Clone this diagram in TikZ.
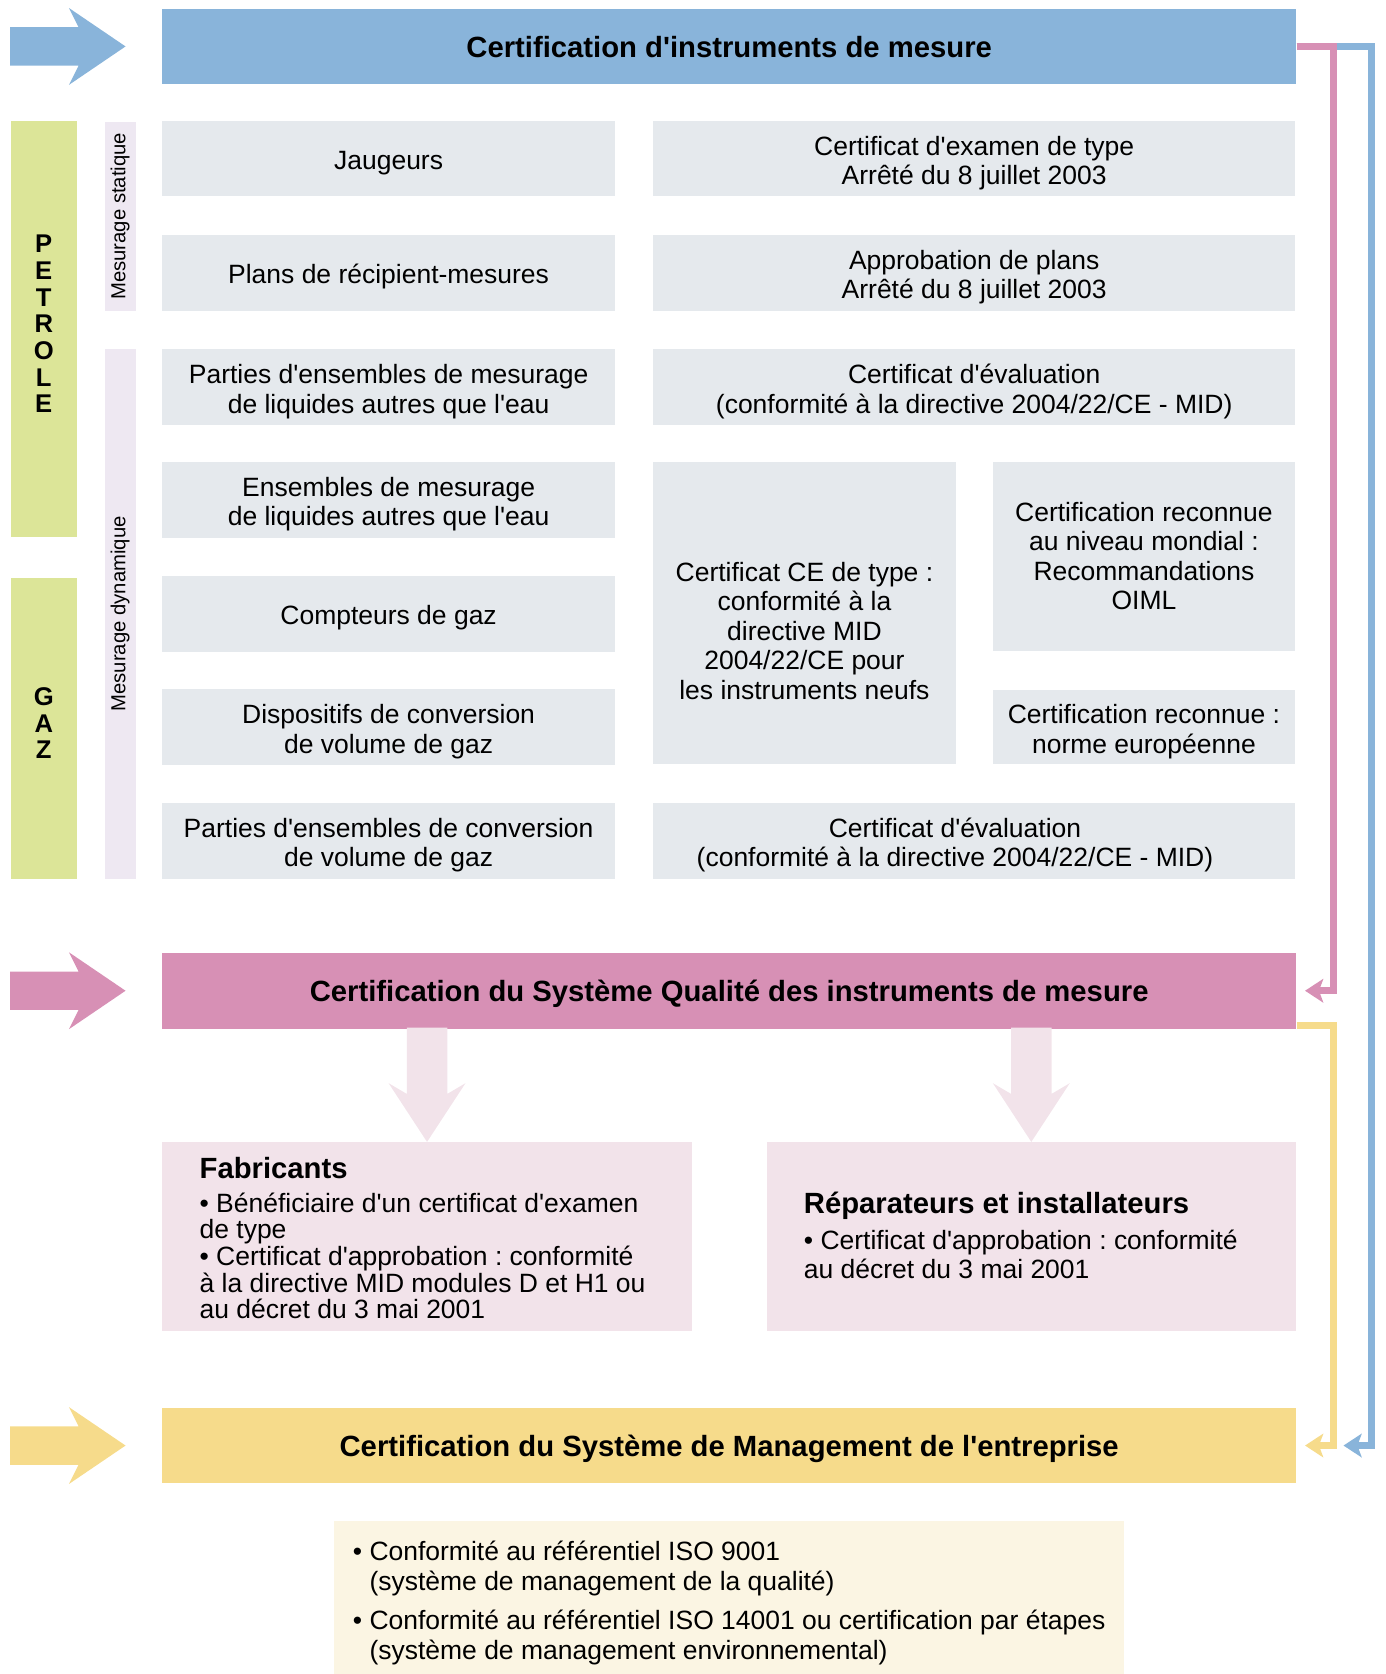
\documentclass[tikz,border=0pt]{standalone}
\usepackage{fontspec}
\setmainfont{Liberation Sans}[Ligatures=TeXOff]
\usetikzlibrary{calc,arrows.meta}
\frenchspacing
\definecolor{bleu}{HTML}{89B4DA}
\definecolor{rose}{HTML}{D790B5}
\definecolor{jaune}{HTML}{F6DB8B}
\definecolor{vert}{HTML}{DCE598}
\definecolor{lavande}{HTML}{EEE8F2}
\definecolor{gris}{HTML}{E5E9ED}
\definecolor{rosepale}{HTML}{F2E3EA}
\definecolor{creme}{HTML}{FBF5E3}
\def\grossefleche[#1](#2){\fill[#1] (#2) ++(-108,-18) -- ++(64,0) -- ++(-9,-18) -- ++(53,36) -- ++(-53,36) -- ++(9,-18) -- ++(-64,0) -- cycle;}
\def\flechebas[#1](#2){\fill[#1] (#2) -- ++(-36,-55) -- ++(17,10) -- ++(0,-62) -- ++(38,0) -- ++(0,62) -- ++(17,-10) -- cycle;}
\tikzset{
	barre/.style={inner sep=0pt, minimum width=531pt, minimum height=35.5pt, text depth=0pt, font=\fontsize{13.7}{16}\selectfont\bfseries},
	case/.style={fill=gris, inner sep=0pt, align=center, font=\fontsize{12.4}{13.8}\selectfont},
	gauche/.style={case, minimum width=212pt, minimum height=35.5pt, text height=12.8pt},
	droite/.style={case, minimum width=300.5pt, minimum height=35.5pt, text height=12.8pt},
	deux/.style={text height=27pt},
	domaine/.style={fill=vert, inner sep=0pt, minimum width=31pt, align=center, font=\fontsize{12}{12.5}\selectfont\bfseries, execute at end node={\rule[-4.5pt]{0pt}{4.5pt}}},
	bande/.style={fill=lavande, inner sep=0pt, rotate=90, minimum height=14.5pt, font=\fontsize{9.5}{11}\selectfont},
	encadre/.style={fill=rosepale, inner sep=0pt, minimum width=248pt, minimum height=88.5pt},
	corps/.style={inner sep=0pt, align=left, font=\fontsize{12.4}{12.5}\selectfont},
	lien/.style={line width=3.25pt, draw=#1, -{Stealth[length=8.5pt,width=11pt,inset=2pt]}, shorten >=4pt},
}
\begin{document}
\begin{tikzpicture}[x=0.5pt,y=-0.5pt]
		\useasboundingbox (0,0) rectangle (1297.4,1568);
		
		%%%%% bandeaux %%%%%
		\node[barre, fill=bleu] (instr) at (683,43.5) {Certification d'instruments de mesure};
		\node[barre, fill=rose] (qualite) at (683,928) {Certification du Système Qualité des instruments de mesure};
		\node[barre, fill=jaune] (manag) at (683,1354) {Certification du Système de Management de l'entreprise};
		
		\coordinate (pointeB) at ($(instr.west)+(-34,0)$);
		\coordinate (pointeR) at ($(qualite.west)+(-34,0)$);
		\coordinate (pointeJ) at ($(manag.west)+(-34,0)$);
		\grossefleche[bleu](pointeB)
		\grossefleche[rose](pointeR)
		\grossefleche[jaune](pointeJ)
		
		%%%%% domaines %%%%%
		\node[domaine, minimum height=195pt] (petrole) at (41,308) {P\\E\\T\\R\\O\\L\\E};
		\node[domaine, minimum height=141pt] (gaz) at (41,682) {G\\A\\Z};
		\node[bande, minimum width=88.5pt] (statique) at (112.5,202.5) {Mesurage statique};
		\node[bande, minimum width=248pt] (dynamique) at (112.5,575) {Mesurage dynamique};
		
		%%%%% instruments %%%%%
		\node[gauche] (jaugeurs) at (364,148.5) {Jaugeurs};
		\node[gauche] (plans) at (364,255.5) {Plans de récipient-mesures};
		\node[gauche, deux] (partliq) at (364,362.5) {Parties d'ensembles de mesurage\\de liquides autres que l'eau};
		\node[gauche, deux] (ensliq) at (364,468) {Ensembles de mesurage\\de liquides autres que l'eau};
		\node[gauche] (compteurs) at (364,575) {Compteurs de gaz};
		\node[gauche, deux] (conversion) at (364,681) {Dispositifs de conversion\\de volume de gaz};
		\node[gauche, deux] (partconv) at (364,787.5) {Parties d'ensembles de conversion\\de volume de gaz};
		
		%%%%% certificats %%%%%
		\node[droite, deux] (examen) at (912.5,148.5) {Certificat d'examen de type\\Arrêté du 8 juillet 2003};
		\node[droite, deux] (approb) at (912.5,255.5) {Approbation de plans\\Arrêté du 8 juillet 2003};
		\node[droite, deux] (eval1) at (912.5,362.5) {Certificat d'évaluation\\(conformité à la directive 2004/22/CE - MID)};
		\node[case, minimum width=141.5pt, minimum height=141.5pt] (cetype) at (753.5,574.5) {};
		\node[case, fill=none] (cetexte) at (753.5,591) {Certificat CE de type :\\conformité à la\\directive MID\\2004/22/CE pour\\les instruments neufs};
		\node[case, minimum width=141.5pt, minimum height=88.5pt] (oiml) at (1071.5,521) {Certification reconnue\\au niveau mondial :\\Recommandations\\OIML};
		\node[case, deux, minimum width=141.5pt, minimum height=35pt] (norme) at (1071.5,681) {Certification reconnue :\\norme européenne};
		\node[droite] (eval2) at (912.5,787.5) {};
		\node[droite, deux, fill=none] (evaltexte) at (894.5,787.5) {Certificat d'évaluation\\(conformité à la directive 2004/22/CE - MID)};
		
		%%%%% qualite %%%%%
		\node[encadre] (fab) at (400,1158.5) {};
		\node[corps, anchor=west] (fabtexte) at ($(fab.west)+(35,1.5)$) {{\fontsize{13.7}{15}\selectfont\bfseries Fabricants}\\[3pt]• Bénéficiaire d'un certificat d'examen\\de type\\• Certificat d'approbation : conformité\\à la directive MID modules D et H1 ou\\au décret du 3 mai 2001};
		\node[encadre] (repar) at (966,1158.5) {};
		\node[corps, anchor=west, font=\fontsize{12.4}{13.5}\selectfont] (repartexte) at ($(repar.west)+(35,-1.5)$) {{\fontsize{13.7}{15}\selectfont\bfseries Réparateurs et installateurs}\\[3.5pt]• Certificat d'approbation : conformité\\au décret du 3 mai 2001};
		\flechebas[rosepale](fab.north)
		\flechebas[rosepale](repar.north)
		
		%%%%% management %%%%%
		\node[fill=creme, inner sep=0pt, minimum width=370pt, minimum height=76.5pt, align=left, font=\fontsize{12.4}{14}\selectfont] (iso) at (683,1501.5) {• Conformité au référentiel ISO 9001\\\phantom{• }(système de management de la qualité)\\[4.5pt]• Conformité au référentiel ISO 14001 ou certification par étapes\\\phantom{• }(système de management environnemental)};
		
		%%%%% liens %%%%%
		\draw[lien=bleu, shorten >=22pt] (instr.east) -- ++(70.5,0) |- (manag.east);
		\draw[lien=rose] (instr.east) -- ++(35,0) |- (qualite.east);
		\draw[lien=jaune] ($(qualite.south east)+(0,-3.5)$) -- ++(35,0) |- (manag.east);
		
\end{tikzpicture}
\end{document}
